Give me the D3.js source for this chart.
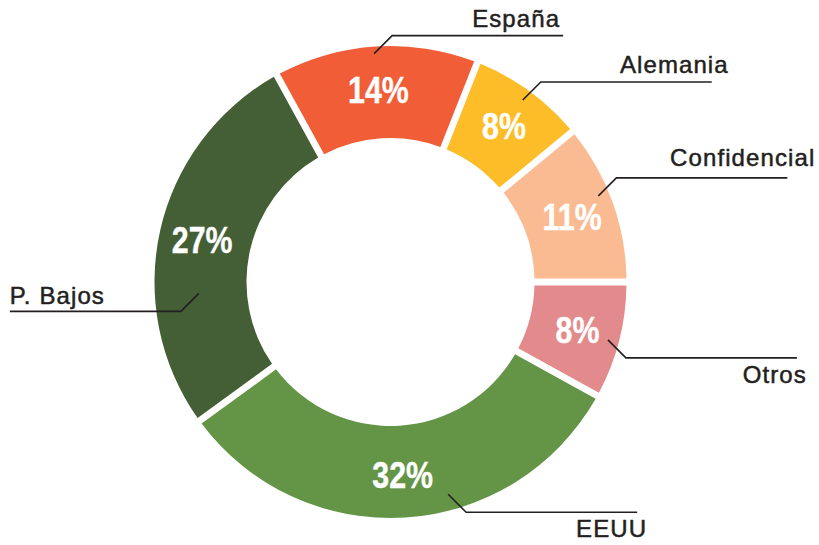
<!DOCTYPE html>
<html>
<head>
<meta charset="utf-8">
<script src="https://cdn.jsdelivr.net/npm/d3@7"></script>
<style>
  body { margin: 0; background: #fff; }
  svg { display: block; }
</style>
</head>
<body>
<div id="chart"></div>
<script>
// data, clockwise from 3 o'clock
var categories = ["Otros", "EEUU", "P. Bajos", "España", "Alemania", "Confidencial"];
var shares = [8, 32, 27, 14, 8, 11];
var colors = ["#E38A8D", "#649547", "#445F35", "#F15D37", "#FDBD28", "#FBBB92"];

// leader line layout per label (angle offset in degrees, start radius, direction, text offset from line end)
var leaderLayout = {
  "Otros":        {da: 0.5,   r: 225, sx: 1,  sy: 1,  tx: 10, ty: 25, anchor: "end"},
  "EEUU":         {da: -11.6, r: 220, sx: 1,  sy: 1,  tx: 10, ty: 25, anchor: "end"},
  "P. Bajos":     {da: -16,   r: 192, sx: -1, sy: 1,  tx: 0,  ty: -7, anchor: "start"},
  "España":       {da: -0.5,  r: 229, sx: 1,  sy: -1, tx: -3, ty: -9, anchor: "end"},
  "Alemania":     {da: 0,     r: 225, sx: 1,  sy: -1, tx: 17, ty: -9, anchor: "end"},
  "Confidencial": {da: -2.7,  r: 225, sx: 1,  sy: -1, tx: 28, ty: -12, anchor: "end"}
};

var width = 819, height = 545;
var cx = 390.5, cy = 282;
var outerR = 236, innerR = 144;

var data = categories.map(function(c, i){ return {name: c, value: shares[i], color: colors[i]}; });

var svg = d3.select("#chart").append("svg")
  .attr("width", width)
  .attr("height", height);

var g = svg.append("g").attr("transform", "translate(" + cx + "," + cy + ")");

var pie = d3.pie()
  .sort(null)
  .value(function(d){ return d.value; })
  .startAngle(Math.PI / 2)
  .endAngle(Math.PI / 2 + 2 * Math.PI);

var arc = d3.arc()
  .innerRadius(innerR)
  .outerRadius(outerR)
  .padRadius(100)
  .padAngle(0.068);

var labelArc = d3.arc().innerRadius(193).outerRadius(193);

var arcs = pie(data);

g.selectAll("path.slice")
  .data(arcs).enter()
  .append("path")
  .attr("class", "slice")
  .attr("d", arc)
  .attr("fill", function(d){ return d.data.color; });

// percentages
g.selectAll("text.pct")
  .data(arcs).enter()
  .append("text")
  .attr("class", "pct")
  .attr("transform", function(d){
    var c = labelArc.centroid(d);
    return "translate(" + c[0] + "," + c[1] + ") scale(0.82,1)";
  })
  .attr("text-anchor", "middle")
  .attr("dy", "0.36em")
  .attr("fill", "#fff")
  .attr("stroke", "#fff")
  .attr("stroke-width", 0.4)
  .style("font-family", "'Liberation Sans', Arial, sans-serif")
  .style("font-weight", "bold")
  .style("font-size", "37px")
  .text(function(d){ return d.data.value + "%"; });

// leader lines + names
var diag = 18, run = 171;
arcs.forEach(function(d){
  var L = leaderLayout[d.data.name];
  var a = (d.startAngle + d.endAngle) / 2 + L.da * Math.PI / 180;
  var x0 = L.r * Math.sin(a), y0 = -L.r * Math.cos(a);
  var x1 = x0 + L.sx * diag, y1 = y0 + L.sy * diag;
  var x2 = x1 + L.sx * run;
  g.append("path")
    .attr("d", d3.line()([[x0, y0], [x1, y1], [x2, y1]]))
    .attr("fill", "none")
    .attr("stroke", "#231f20")
    .attr("stroke-width", 1.6);
  g.append("text")
    .attr("x", x2 + L.tx)
    .attr("y", y1 + L.ty)
    .attr("text-anchor", L.anchor)
    .attr("fill", "#231f20")
    .attr("stroke", "#231f20")
    .attr("stroke-width", 0.5)
    .style("font-family", "'Liberation Sans', Arial, sans-serif")
    .style("font-size", "24px")
    .style("letter-spacing", "1.1px")
    .text(d.data.name);
});
</script>
</body>
</html>
